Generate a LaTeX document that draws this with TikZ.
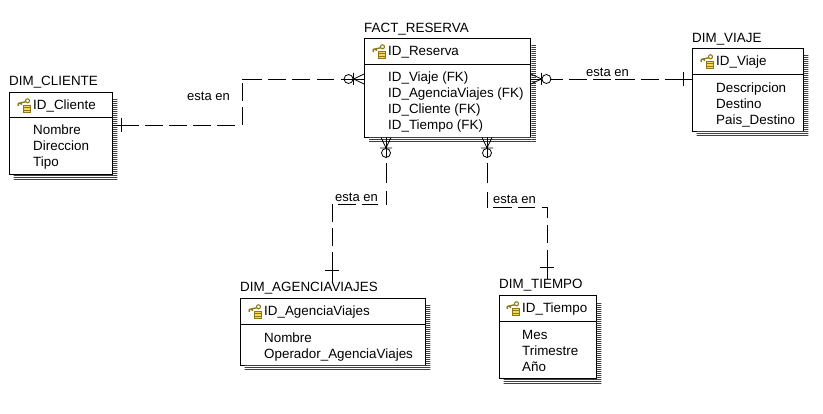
\documentclass[tikz,border=0pt]{standalone}
\usepackage{fontspec}
\setmainfont{Liberation Sans}
\usetikzlibrary{patterns.meta}
\definecolor{keyolive}{RGB}{140,120,20}
\definecolor{keyyellow}{RGB}{245,215,90}
\tikzset{
  entbox/.style={shape=rectangle,draw=black,line width=0.9pt,fill=white,inner sep=0pt},
  ttl/.style={anchor=base west,inner sep=0pt,font=\fontsize{13.4}{16}\selectfont},
  attrs/.style={anchor=north west,inner sep=0pt,align=left,font=\fontsize{13.4}{16}\selectfont},
  lbl/.style={anchor=base west,inner sep=0pt,font=\fontsize{13}{16}\selectfont},
  relline/.style={draw=black,line width=0.8pt},
  shadefill/.style={pattern={Lines[angle=0,distance=2pt,line width=1pt]},pattern color=black!75},
  crow/.pic={
    \draw[line width=0.8pt] (0,-5) -- (10.5,0) -- (0,5) (10.5,-6) -- (10.5,6);
    \draw[line width=0.8pt] (15.5,0) circle (4.5);
  },
  bar/.pic={\draw[line width=0.8pt] (0,-7) -- (0,7);},
  keyicon/.pic={
    \draw[line width=1.1pt,draw=keyolive] (3.5,1.8) circle (2);
    \draw[line width=1.4pt,draw=keyolive] (1.5,2.8) -- (-6,4.5) (-6,4.5) -- (-5.5,7) (-3,4) -- (-2.6,6);
    \draw[line width=0.7pt,draw=keyolive,fill=keyyellow] (-1,6) rectangle (6,13.5);
    \draw[line width=0.7pt,draw=keyolive] (-1,8.5) -- (6,8.5) (-1,11) -- (6,11);
  }
}
\newcommand{\entshade}[1]{
  \fill[shadefill] ([xshift=0.5pt,yshift=-8pt]#1.north east) rectangle ([xshift=5pt,yshift=-5pt]#1.south east);
  \fill[shadefill] ([xshift=5pt,yshift=-0.5pt]#1.south west) rectangle ([xshift=0.5pt,yshift=-5pt]#1.south east);
}
\begin{document}
\begin{tikzpicture}[x=1pt,y=-1pt]
\useasboundingbox (0,0) rectangle (823,414);

\node[entbox,minimum width=166pt,minimum height=99pt] (fact) at (447.5,87.5) {};
\node[entbox,minimum width=103pt,minimum height=82pt] (cliente) at (60.5,133) {};
\node[entbox,minimum width=185pt,minimum height=67pt] (agencia) at (332.5,331.5) {};
\node[entbox,minimum width=97pt,minimum height=83pt] (tiempo) at (547.5,336.5) {};
\node[entbox,minimum width=111pt,minimum height=83pt] (viaje) at (747.5,89.5) {};

\entshade{fact}
\entshade{cliente}
\entshade{agencia}
\entshade{tiempo}
\entshade{viaje}

\draw[line width=0.8pt] (fact.west |- 0,64) -- (fact.east |- 0,64);
\draw[line width=0.8pt] (cliente.west |- 0,117) -- (cliente.east |- 0,117);
\draw[line width=0.8pt] (agencia.west |- 0,324) -- (agencia.east |- 0,324);
\draw[line width=0.8pt] (tiempo.west |- 0,321) -- (tiempo.east |- 0,321);
\draw[line width=0.8pt] (viaje.west |- 0,74) -- (viaje.east |- 0,74);

\node[ttl] (factttl) at (364,33) {FACT\_RESERVA};
\node[ttl] (clientettl) at (9,86) {DIM\_CLIENTE};
\node[ttl] (agenciattl) at (240,292) {DIM\_AGENCIAVIAJES};
\node[ttl] (tiempottl) at (499,289) {DIM\_TIEMPO};
\node[ttl] (viajettl) at (692,43) {DIM\_VIAJE};

\node[ttl] (factkey) at (388,56) {ID\_Reserva};
\node[ttl] (clientekey) at (33,110) {ID\_Cliente};
\node[ttl] (agenciakey) at (264,316) {ID\_AgenciaViajes};
\node[ttl] (tiempokey) at (522,313) {ID\_Tiempo};
\node[ttl] (viajekey) at (716,66) {ID\_Viaje};

\pic at (379,45) {keyicon};
\pic at (24,99) {keyicon};
\pic at (255,305) {keyicon};
\pic at (513,302) {keyicon};
\pic at (707,55) {keyicon};

\node[attrs] (factattrs) at (388,72) {ID\_Viaje (FK)\\ID\_AgenciaViajes (FK)\\ID\_Cliente (FK)\\ID\_Tiempo (FK)};
\node[attrs] (clienteattrs) at (33,125) {Nombre\\Direccion\\Tipo};
\node[attrs] (agenciaattrs) at (264,333) {Nombre\\Operador\_AgenciaViajes};
\node[attrs] (tiempoattrs) at (522,330) {Mes\\Trimestre\\Año};
\node[attrs] (viajeattrs) at (716,83) {Descripcion\\Destino\\Pais\_Destino};

\node[lbl] (lblcliente) at (187,101) {esta en};
\node[lbl] (lblviaje) at (586,77) {esta en};
\node[lbl] (lblagencia) at (335,202) {esta en};
\node[lbl] (lbltiempo) at (493,204) {esta en};

\path [relline,dash pattern=on 27pt off 6pt on 18pt off 6pt on 18pt off 6pt on 18pt off 6pt on 18pt off 7pt on 18pt off 6pt on 18pt off 4pt on 20pt off 6pt on 18pt off 6pt on 18pt off 7pt on 17pt off 7pt on 23pt off 1pt]
  (cliente.east |- 0,125) -- (242,125) -- (242,79) -- (fact.west |- 0,79);
\path [relline,dash pattern=on 10pt off 9pt on 13pt off 6pt on 18pt off 6pt on 18pt off 4pt on 20pt off 6pt on 18pt off 6pt on 27pt off 1pt]
  (fact.east |- 0,79) -- (viaje.west |- 0,79);
\path [relline,dash pattern=on 21pt off 5pt on 20pt off 8pt on 13pt off 8pt on 16pt off 6pt on 18pt off 6pt on 18pt off 6pt on 18pt off 6pt on 99pt off 1pt]
  (fact.south -| 386,0) -- (386,204) -- (332,204) -- (agenciattl.north -| 332,0);
\path [relline,dash pattern=on 21pt off 5pt on 20pt off 9pt on 15pt off 6pt on 19pt off 6pt on 17pt off 7pt on 16pt off 7pt on 18pt off 7pt on 99pt off 1pt]
  (fact.south -| 487,0) -- (487,207) -- (547,207) -- (tiempottl.north -| 547,0);

\pic[rotate=180] at (fact.west |- 0,79) {crow};
\pic at (fact.east |- 0,79) {crow};
\pic[rotate=-90] at (fact.south -| 386,0) {crow};
\pic[rotate=-90] at (fact.south -| 487,0) {crow};

\pic at (121.5,125) {bar};
\pic at (683,79) {bar};
\pic[rotate=90] at (332,270) {bar};
\pic[rotate=90] at (547,267) {bar};
\end{tikzpicture}
\end{document}
